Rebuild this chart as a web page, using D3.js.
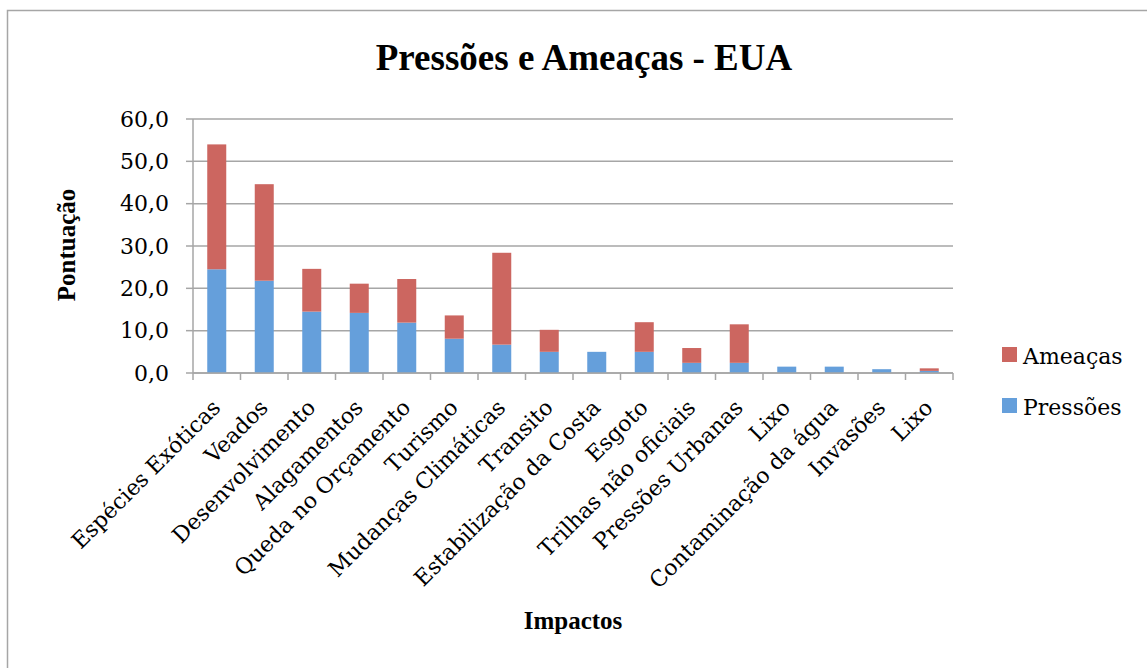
<!DOCTYPE html>
<html>
<head>
<meta charset="utf-8">
<script src="https://cdn.jsdelivr.net/npm/d3@7"></script>
<style>
  body { margin: 0; background: #fff; }
  text { fill: #000; }
</style>
</head>
<body>
<div id="chart"></div>
<script>
// data
const categories = ["Espécies Exóticas", "Veados", "Desenvolvimento", "Alagamentos",
  "Queda no Orçamento", "Turismo", "Mudanças Climáticas", "Transito",
  "Estabilização da Costa", "Esgoto", "Trilhas não oficiais", "Pressões Urbanas",
  "Lixo", "Contaminação da água", "Invasões", "Lixo"];
const pressoes = [24.5, 21.8, 14.5, 14.2, 11.9, 8.1, 6.7, 5.0, 5.0, 5.0, 2.4, 2.4, 1.5, 1.5, 0.9, 0.5];
const ameacas  = [29.5, 22.8, 10.1, 6.9, 10.3, 5.5, 21.7, 5.2, 0.0, 7.0, 3.5, 9.1, 0.0, 0.0, 0.0, 0.6];
const yTicks = [0, 10, 20, 30, 40, 50, 60];
const seriesNames = ["Pressões", "Ameaças"];
const legendOrder = ["Ameaças", "Pressões"];
const colors = {"Pressões": "#659fdb", "Ameaças": "#cc6660"};

let width = 1147, height = 668;
let margin = {top: 119, right: 194, bottom: 295, left: 193};
const serif = "'DejaVu Serif', serif";
const timesFont = "'Liberation Serif', 'Times New Roman', serif";
const gridColor = "#a6a6a6";

let rows = categories.map((c, i) => ({idx: i, cat: c, "Pressões": pressoes[i], "Ameaças": ameacas[i]}));
let stacked = d3.stack().keys(seriesNames)(rows);

let svg = d3.select("#chart").append("svg")
  .attr("width", width).attr("height", height);

// outer chart frame (only left and top edges are visible)
svg.append("path")
  .attr("d", "M7.5," + height + "V10.5H" + width)
  .attr("fill", "none").attr("stroke", "#a6a6a6").attr("stroke-width", 1.5);

// scales in page coordinates
let xScale = d3.scaleBand()
  .domain(d3.range(categories.length))
  .range([margin.left, width - margin.right])
  .paddingInner(0.6).paddingOuter(0.3);
let yScale = d3.scaleLinear().domain([0, 60]).range([height - margin.bottom, margin.top]);
let x0 = margin.left, x1 = width - margin.right, yBase = yScale(0);
let step = xScale.step();

// gridlines
svg.append("g").selectAll("line")
  .data(yTicks)
  .join("line")
  .attr("x1", x0).attr("x2", x1)
  .attr("y1", d => yScale(d)).attr("y2", d => yScale(d))
  .attr("stroke", gridColor).attr("stroke-width", 1.5);

// y axis line, ticks and labels
svg.append("line")
  .attr("x1", x0).attr("x2", x0)
  .attr("y1", yScale(60)).attr("y2", yBase)
  .attr("stroke", gridColor).attr("stroke-width", 1.5);
svg.append("g").selectAll("line")
  .data(yTicks)
  .join("line")
  .attr("x1", x0 - 7).attr("x2", x0)
  .attr("y1", d => yScale(d)).attr("y2", d => yScale(d))
  .attr("stroke", gridColor).attr("stroke-width", 1.5);
svg.append("g").selectAll("text")
  .data(yTicks)
  .join("text")
  .attr("x", x0 - 24).attr("y", d => yScale(d))
  .attr("dy", "0.35em")
  .attr("text-anchor", "end")
  .attr("font-family", serif).attr("font-size", 22)
  .text(d => d3.format(".1f")(d).replace(".", ","));

// bars
svg.append("g").selectAll("g")
  .data(stacked)
  .join("g")
  .attr("fill", d => colors[d.key])
  .selectAll("rect")
  .data(d => d)
  .join("rect")
  .attr("x", d => xScale(d.data.idx))
  .attr("width", xScale.bandwidth())
  .attr("y", d => yScale(d[1]))
  .attr("height", d => yScale(d[0]) - yScale(d[1]));

// x axis line and ticks between categories
svg.append("line")
  .attr("x1", x0).attr("x2", x1)
  .attr("y1", yBase).attr("y2", yBase)
  .attr("stroke", gridColor).attr("stroke-width", 1.5);
svg.append("g").selectAll("line")
  .data(d3.range(categories.length + 1))
  .join("line")
  .attr("x1", i => x0 + i * step).attr("x2", i => x0 + i * step)
  .attr("y1", yBase).attr("y2", yBase + 7)
  .attr("stroke", gridColor).attr("stroke-width", 1.5);

// category labels
svg.append("g").selectAll("text")
  .data(categories)
  .join("text")
  .attr("transform", (d, i) => "translate(" + (xScale(i) + xScale.bandwidth() / 2 + 5) + "," + (yBase + 36) + ") rotate(-45)")
  .attr("text-anchor", "end")
  .attr("font-family", serif).attr("font-size", 22)
  .text(d => d);

// title
svg.append("text")
  .attr("x", 584).attr("y", 70)
  .attr("text-anchor", "middle")
  .attr("font-family", timesFont).attr("font-weight", "bold").attr("font-size", 37)
  .text("Pressões e Ameaças - EUA");

// axis titles
svg.append("text")
  .attr("transform", "translate(75,245) rotate(-90)")
  .attr("text-anchor", "middle")
  .attr("font-family", timesFont).attr("font-weight", "bold").attr("font-size", 25)
  .text("Pontuação");
svg.append("text")
  .attr("x", 573).attr("y", 629)
  .attr("text-anchor", "middle")
  .attr("font-family", timesFont).attr("font-weight", "bold").attr("font-size", 25)
  .text("Impactos");

// legend
svg.append("g").selectAll("rect")
  .data(legendOrder)
  .join("rect")
  .attr("x", 1002).attr("y", (d, i) => 347 + i * 51)
  .attr("width", 15).attr("height", 15)
  .attr("fill", d => colors[d]);
svg.append("g").selectAll("text")
  .data(legendOrder)
  .join("text")
  .attr("x", 1023).attr("y", (d, i) => 364 + i * 51)
  .attr("font-family", serif).attr("font-size", 22)
  .text(d => d);
</script>
</body>
</html>
